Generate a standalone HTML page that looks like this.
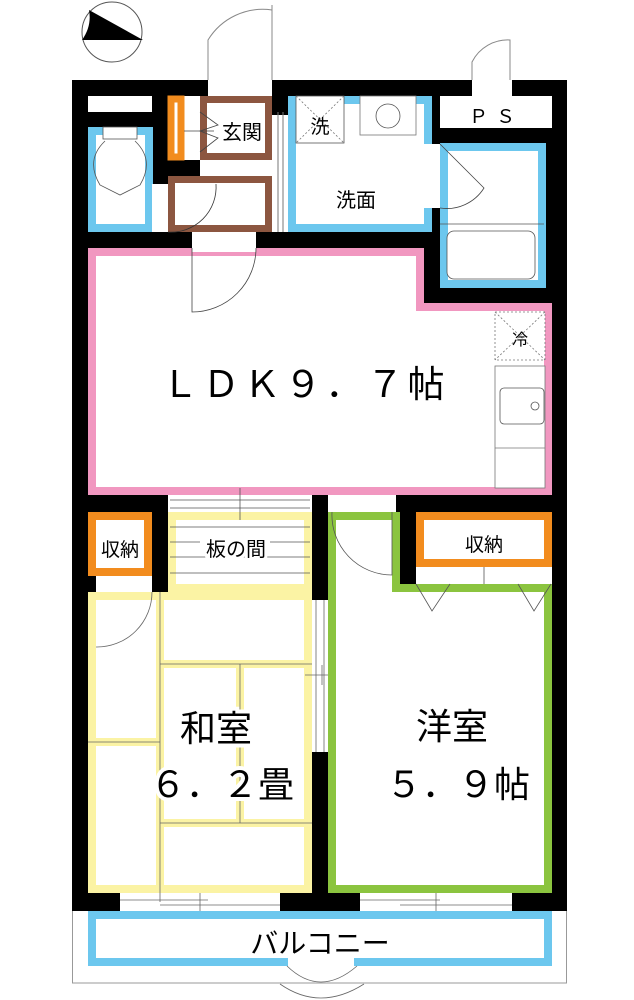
<!DOCTYPE html>
<html><head><meta charset="utf-8"><style>
html,body{margin:0;padding:0;background:#fff}
svg{display:block}
text{font-family:"Liberation Sans","Noto Sans CJK JP",sans-serif;fill:#000}
</style></head><body>
<svg width="634" height="1000" viewBox="0 0 634 1000" xmlns="http://www.w3.org/2000/svg">
<!-- compass -->
<circle cx="112" cy="32" r="30" fill="#fff" stroke="#555" stroke-width="1"/>
<path d="M89 10 L143 40 L82 40 Q92 26 89 10 Z" fill="#000"/>
<!-- outside doors -->
<path d="M208 80 L208 40 A64 64 0 0 1 272 10 L272 80" fill="#fff" stroke="#888"/>
<line x1="272" y1="5" x2="272" y2="80" stroke="#888"/>
<path d="M472 80 L472 62 A40 40 0 0 1 510 40 L510 80" fill="#fff" stroke="#888"/>
<!-- balcony outer outline -->
<rect x="72.5" y="905" width="494" height="78" fill="#fff" stroke="#999" stroke-width="1"/>
<!-- main black -->
<rect x="72" y="80" width="495" height="831" fill="#000"/>
<!-- top openings -->
<rect x="208" y="80" width="64" height="17" fill="#fff"/>
<rect x="472" y="80" width="40" height="17" fill="#fff"/>
<!-- top-left bar -->
<rect x="88" y="96" width="64" height="16" fill="#fff"/>
<!-- toilet -->
<rect x="92" y="131" width="57" height="97" fill="#fff" stroke="#6cc7ee" stroke-width="8"/>
<rect x="103" y="127" width="34" height="12" fill="#fff" stroke="#555" stroke-width="0.8"/>
<path d="M105 141 Q85 160 100 185 L120 195 L140 185 Q155 160 135 141" fill="none" stroke="#555" stroke-width="0.8"/>
<!-- entry area -->
<rect x="184" y="96" width="16" height="64" fill="#fff"/>
<rect x="171" y="99" width="10" height="58" fill="#fff" stroke="#f28c1e" stroke-width="7"/>
<rect x="203.5" y="99.5" width="65" height="57" fill="#fff" stroke="#8c5640" stroke-width="7"/>
<line x1="184" y1="131" x2="214" y2="131" stroke="#444" stroke-width="0.8"/>
<path d="M200 112 L218 125 L200 131 L218 138 L200 152" fill="none" stroke="#444" stroke-width="0.8"/>
<rect x="200" y="160" width="72" height="16" fill="#fff"/>
<rect x="171.5" y="179.5" width="97" height="49" fill="#fff" stroke="#8c5640" stroke-width="7"/>
<path d="M168 232 A45 45 0 0 0 216 184" fill="none" stroke="#333" stroke-width="0.8"/>
<rect x="152" y="184" width="16" height="48" fill="#fff"/>
<rect x="272" y="115" width="16" height="117" fill="#fff"/>
<line x1="278" y1="112" x2="278" y2="232" stroke="#777"/>
<line x1="283" y1="112" x2="283" y2="232" stroke="#777"/>
<!-- 洗面 -->
<rect x="292" y="100" width="136" height="128" fill="#fff" stroke="#6cc7ee" stroke-width="8"/>
<rect x="296" y="96" width="48" height="47" fill="#fff" stroke="#555" stroke-width="0.8"/>
<path d="M296 96 L344 143 M344 96 L296 143" stroke="#777" stroke-width="0.8" stroke-dasharray="2,2"/>
<rect x="360" y="96" width="56" height="39" fill="#fff" stroke="#777" stroke-width="0.8"/>
<circle cx="388" cy="116" r="12" fill="#fff" stroke="#555" stroke-width="0.8"/>
<!-- PS -->
<rect x="440" y="96" width="112" height="32" fill="#fff"/>
<!-- bath -->
<rect x="424" y="144" width="18" height="64" fill="#fff"/>
<rect x="444" y="147" width="98" height="137" fill="#fff" stroke="#6cc7ee" stroke-width="8"/>
<path d="M440 144 L484 188 A44 44 0 0 1 440 208" fill="none" stroke="#444" stroke-width="0.8"/>
<line x1="440" y1="224" x2="544" y2="224" stroke="#555" stroke-width="0.8"/>
<rect x="447" y="231" width="88" height="48" rx="7" fill="#fff" stroke="#555" stroke-width="0.8"/>
<!-- LDK -->
<path d="M92 252 L420 252 L420 307 L548 307 L548 491 L92 491 Z" fill="#fff" stroke="#f197c0" stroke-width="8"/>
<rect x="192" y="232" width="64" height="20" fill="#fff"/>
<path d="M192 248 L192 312 A64 64 0 0 0 256 248" fill="none" stroke="#444" stroke-width="0.8"/>
<rect x="495" y="312" width="50" height="48" fill="#fff" stroke="#777" stroke-width="0.8" stroke-dasharray="2,2"/>
<path d="M495 312 L545 360 M545 312 L495 360" stroke="#777" stroke-width="0.8" stroke-dasharray="2,2"/>
<rect x="495" y="366" width="50" height="122" fill="#fff" stroke="#777" stroke-width="0.8"/>
<rect x="500" y="388" width="44" height="36" rx="4" fill="#fff" stroke="#555" stroke-width="0.8"/>
<circle cx="535" cy="406" r="4" fill="none" stroke="#555" stroke-width="0.8"/>
<line x1="495" y1="448" x2="545" y2="448" stroke="#777" stroke-width="0.8"/>
<!-- lower left -->
<rect x="92" y="516" width="56" height="56" fill="#fff" stroke="#f28c1e" stroke-width="8"/>
<rect x="96" y="576" width="56" height="16" fill="#fff"/>
<rect x="168" y="495" width="144" height="20" fill="#fff"/>
<rect x="172" y="516" width="136" height="72" fill="#fff" stroke="#fbf3a4" stroke-width="8"/>
<g stroke="#555" stroke-width="0.8">
<line x1="170" y1="500" x2="310" y2="500"/><line x1="170" y1="508" x2="310" y2="508"/>
<line x1="170" y1="527" x2="310" y2="527"/><line x1="170" y1="542" x2="200" y2="542"/><line x1="270" y1="542" x2="310" y2="542"/>
<line x1="170" y1="557" x2="310" y2="557"/><line x1="170" y1="573" x2="310" y2="573"/>
<line x1="240" y1="488" x2="240" y2="520"/>
</g>
<!-- 和室 -->
<rect x="92" y="596" width="216" height="293" fill="#fff" stroke="#fbf3a4" stroke-width="8"/>
<g fill="none" stroke="#fbf3a4" stroke-width="8">
<line x1="160" y1="596" x2="160" y2="889"/>
<line x1="92" y1="742" x2="160" y2="742"/>
<line x1="160" y1="664" x2="308" y2="664"/>
<line x1="160" y1="823" x2="308" y2="823"/>
<line x1="240" y1="664" x2="240" y2="823"/>
</g>
<g stroke="#666" stroke-width="0.8" fill="none">
<line x1="160" y1="592" x2="160" y2="893"/><line x1="88" y1="742" x2="160" y2="742"/>
<line x1="160" y1="664" x2="320" y2="664"/><line x1="160" y1="823" x2="312" y2="823"/>
<line x1="240" y1="664" x2="240" y2="823"/>
<path d="M96 647 A55 55 0 0 0 152 592"/>
</g>
<rect x="312" y="600" width="16" height="152" fill="#fff"/>
<g stroke="#666" stroke-width="0.8"><line x1="316" y1="600" x2="316" y2="752"/><line x1="324" y1="600" x2="324" y2="752"/><line x1="305" y1="675" x2="335" y2="675"/><line x1="322" y1="665" x2="322" y2="685"/></g>
<!-- 洋室 -->
<rect x="328" y="495" width="68" height="18" fill="#fff"/>
<path d="M332 516 L396 516 L396 588 L548 588 L548 889 L332 889 Z" fill="#fff" stroke="#8bc43f" stroke-width="8"/>
<rect x="400" y="512" width="16" height="72" fill="#000"/>
<rect x="420" y="516" width="128" height="47" fill="#fff" stroke="#f28c1e" stroke-width="8"/>
<rect x="416" y="567" width="136" height="17" fill="#fff"/>
<g stroke="#555" stroke-width="0.8" fill="none">
<line x1="484" y1="567" x2="484" y2="584"/>
<path d="M332 512 A60 60 0 0 0 392 575 L392 512"/>
<path d="M416 584 L432 611 L450 584"/><path d="M518 584 L534 611 L551 584"/>
</g>
<!-- bottom windows -->
<rect x="120" y="893" width="160" height="19" fill="#fff"/>
<rect x="360" y="893" width="152" height="19" fill="#fff"/>
<g stroke="#666" stroke-width="0.8"><line x1="120" y1="900" x2="208" y2="900"/><line x1="160" y1="905" x2="280" y2="905"/><line x1="360" y1="900" x2="440" y2="900"/><line x1="400" y1="905" x2="512" y2="905"/><line x1="160" y1="893" x2="160" y2="902"/><line x1="200" y1="893" x2="200" y2="918"/><line x1="436" y1="893" x2="436" y2="918"/></g>
<!-- balcony -->
<rect x="92" y="915" width="456" height="47" fill="#fff" stroke="#6cc7ee" stroke-width="8"/>
<rect x="288" y="958" width="66" height="10" fill="#fff"/>
<path d="M287 966 Q320 998 357 966" fill="none" stroke="#666" stroke-width="0.8"/>
<path d="M280 984 Q320 1012 364 984" fill="none" stroke="#666" stroke-width="0.8"/>
<!-- labels -->
<text x="242" y="139" font-size="20" text-anchor="middle">玄関</text>
<text x="320" y="133" font-size="19" text-anchor="middle">洗</text>
<text x="356" y="207" font-size="20" text-anchor="middle">洗面</text>
<text x="496" y="123" font-size="19" text-anchor="middle" letter-spacing="8">ＰＳ</text>
<text x="520" y="345" font-size="16" text-anchor="middle">冷</text>
<text x="305" y="397" font-size="37" text-anchor="middle" letter-spacing="4">ＬＤＫ９．７帖</text>
<text x="120" y="556" font-size="19" text-anchor="middle">収納</text>
<text x="236" y="556" font-size="20" text-anchor="middle" style="paint-order:stroke" stroke="#fff" stroke-width="6">板の間</text>
<text x="484" y="551" font-size="19" text-anchor="middle">収納</text>
<text x="216" y="741" font-size="36" text-anchor="middle" style="paint-order:stroke" stroke="#fff" stroke-width="8">和室</text>
<text x="222" y="797" font-size="36" text-anchor="middle" style="paint-order:stroke" stroke="#fff" stroke-width="8">６．２畳</text>
<text x="452" y="739" font-size="36" text-anchor="middle">洋室</text>
<text x="458" y="797" font-size="36" text-anchor="middle">５．９帖</text>
<text x="320" y="953" font-size="28" text-anchor="middle">バルコニー</text>
</svg>
</body></html>
